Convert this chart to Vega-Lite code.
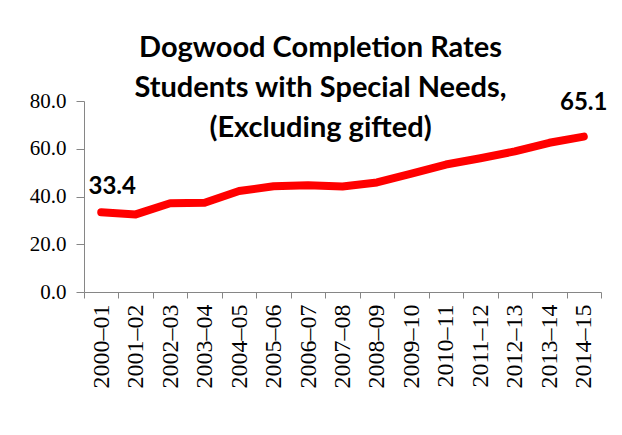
{
  "$schema": "https://vega.github.io/schema/vega-lite/v6.json",
  "width": 517,
  "height": 191,
  "autosize": {"type": "none"},
  "padding": {"left": 84, "top": 101, "right": 21, "bottom": 143},
  "background": "white",
  "title": {
    "text": ["Dogwood Completion Rates", "Students with Special Needs,", "(Excluding gifted)"],
    "font": "Lato",
    "fontSize": 29,
    "fontWeight": "bold",
    "color": "#000000",
    "lineHeight": 40,
    "anchor": "middle",
    "frame": "group",
    "baseline": "top",
    "dx": -22,
    "dy": 57
  },
  "data": {
    "values": [
      {"year": "2000–01", "rate": 33.4},
      {"year": "2001–02", "rate": 32.5},
      {"year": "2002–03", "rate": 37.2},
      {"year": "2003–04", "rate": 37.4},
      {"year": "2004–05", "rate": 42.3},
      {"year": "2005–06", "rate": 44.3},
      {"year": "2006–07", "rate": 44.7},
      {"year": "2007–08", "rate": 44.2},
      {"year": "2008–09", "rate": 45.9},
      {"year": "2009–10", "rate": 49.6},
      {"year": "2010–11", "rate": 53.4},
      {"year": "2011–12", "rate": 56.0},
      {"year": "2012–13", "rate": 58.9},
      {"year": "2013–14", "rate": 62.5},
      {"year": "2014–15", "rate": 65.1}
    ]
  },
  "encoding": {
    "x": {
      "field": "year",
      "type": "ordinal",
      "sort": null,
      "scale": {"type": "band", "paddingInner": 0, "paddingOuter": 0},
      "axis": {
        "title": null,
        "tickBand": "extent",
        "labelAngle": 270,
        "labelFont": "Liberation Serif",
        "labelFontSize": 24,
        "labelColor": "#000000",
        "labelPadding": 6,
        "tickSize": 6,
        "tickColor": "#868686",
        "domainColor": "#868686",
        "labelOverlap": false
      }
    },
    "y": {
      "field": "rate",
      "type": "quantitative",
      "scale": {"domain": [0, 80], "nice": false},
      "axis": {
        "title": null,
        "values": [0, 20, 40, 60, 80],
        "format": ".1f",
        "grid": false,
        "labelFont": "Liberation Serif",
        "labelFontSize": 21,
        "labelColor": "#000000",
        "labelPadding": 10,
        "tickSize": 8,
        "tickColor": "#868686",
        "domainColor": "#868686"
      }
    }
  },
  "layer": [
    {
      "mark": {"type": "line", "color": "#ff0000", "strokeWidth": 8, "strokeCap": "round", "strokeJoin": "round"}
    },
    {
      "transform": [{"filter": "datum.year == '2000–01'"}],
      "mark": {"type": "text", "font": "Lato", "fontSize": 24, "fontWeight": "bold", "color": "#000000", "align": "center", "baseline": "alphabetic", "dx": 11, "dy": -18},
      "encoding": {"text": {"field": "rate", "type": "quantitative", "format": ".1f"}}
    },
    {
      "transform": [{"filter": "datum.year == '2014–15'"}],
      "mark": {"type": "text", "font": "Lato", "fontSize": 24, "fontWeight": "bold", "color": "#000000", "align": "center", "baseline": "alphabetic", "dx": 0, "dy": -27},
      "encoding": {"text": {"field": "rate", "type": "quantitative", "format": ".1f"}}
    }
  ],
  "config": {"view": {"stroke": null}}
}
